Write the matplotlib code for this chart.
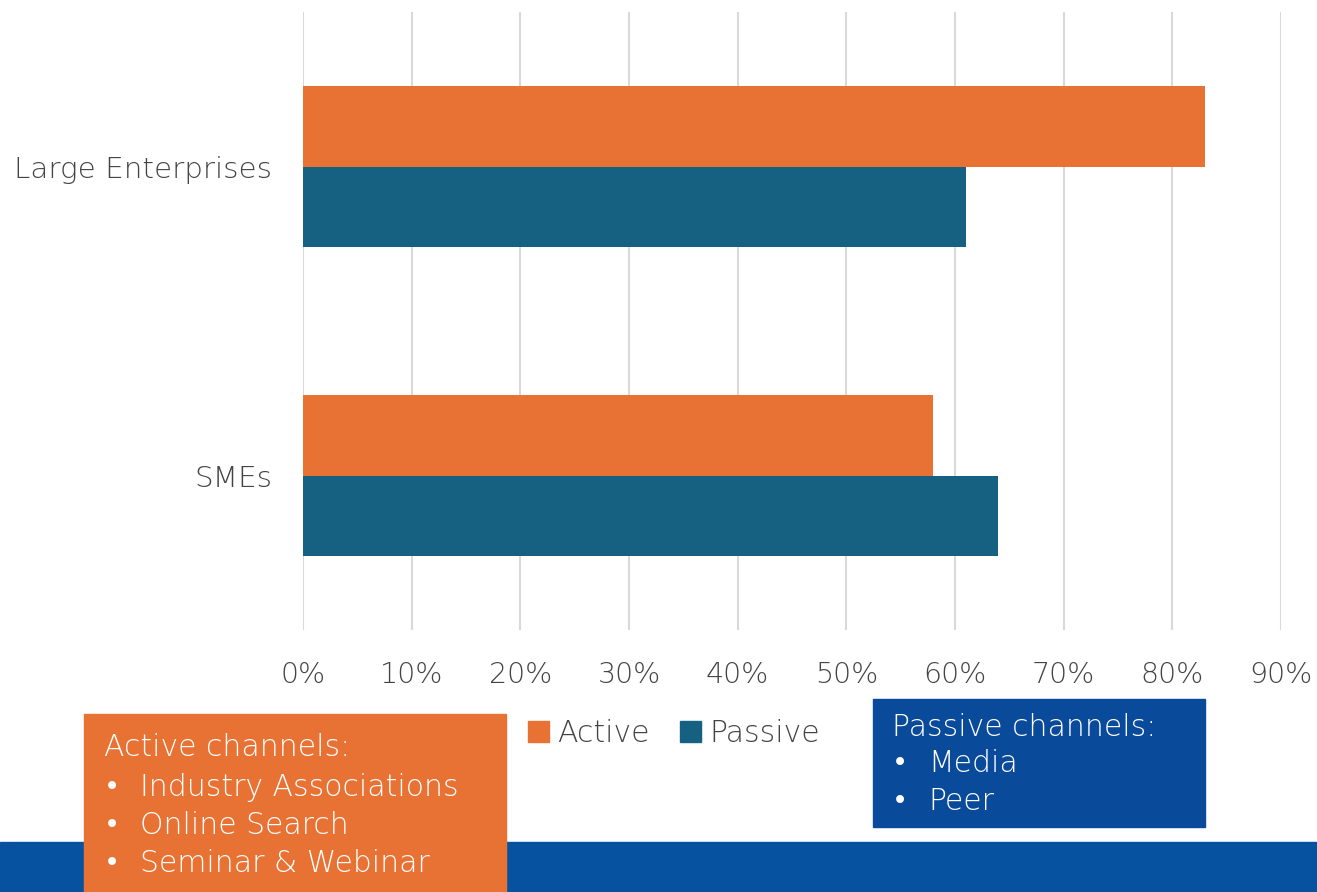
import matplotlib.pyplot as plt
from matplotlib.patches import Rectangle, Patch
from matplotlib.ticker import PercentFormatter

plt.rcParams['font.family'] = ['DejaVu Sans']
plt.rcParams['font.weight'] = 'light'

# data
categories = ['SMEs', 'Large Enterprises']
active = [58, 83]
passive = [64, 61]
x_ticks = [0, 10, 20, 30, 40, 50, 60, 70, 80, 90]
active_channels = ['Industry Associations', 'Online Search', 'Seminar & Webinar']
passive_channels = ['Media', 'Peer']

ORANGE = '#E87234'
TEAL = '#166082'
GREY = '#444444'
W, H = 1317, 892

fig = plt.figure(figsize=(13.17, 8.92), dpi=100)
ax = fig.add_axes([303 / W, 1 - 630 / H, (1281 - 303) / W, (630 - 12) / H])

pos = list(range(len(categories)))
bh = 0.26
ax.barh([p + bh / 2 for p in pos], active, height=bh, color=ORANGE, label='Active', zorder=3)
ax.barh([p - bh / 2 for p in pos], passive, height=bh, color=TEAL, label='Passive', zorder=3)

ax.set_xlim(0, 90)
ax.set_ylim(-0.5, 1.5)
ax.set_xticks(x_ticks)
ax.xaxis.set_major_formatter(PercentFormatter(decimals=0))
ax.set_yticks(pos)
ax.set_yticklabels(categories)
ax.tick_params(length=0, labelcolor=GREY)
ax.tick_params(axis='x', pad=22, labelsize=20.5)
ax.tick_params(axis='y', pad=22, labelsize=21.2)
ax.grid(axis='x', color='#D9D9D9', linewidth=1.5, zorder=0)
for s in ax.spines.values():
    s.set_visible(False)

# legend
handles = [Patch(color=ORANGE, label='Active'), Patch(color=TEAL, label='Passive')]
fig.legend(handles=handles, loc='center', bbox_to_anchor=(674 / W, 1 - 733 / H),
           ncol=2, frameon=False, fontsize=21.5, labelcolor=GREY,
           handlelength=0.7, handleheight=0.7, handletextpad=0.3, columnspacing=1.0)

# bottom band and channel boxes
def fig_rect(x0, y0, x1, y1, color, z):
    fig.patches.append(Rectangle((x0 / W, 1 - y1 / H), (x1 - x0) / W, (y1 - y0) / H,
                                 transform=fig.transFigure, color=color, zorder=z))

fig_rect(0, 842, W, H, '#0752A0', 1)
fig_rect(84, 714, 506, H, ORANGE, 2)
fig_rect(873, 699, 1205, 827, '#0A4A9A', 2)

fs = 21.5
def bullet(x, y):
    fig.text(x / W, y, '•', color='white', fontsize=fs - 2, va='center',
             family=['DejaVu Sans'], fontweight='normal', zorder=5)

fig.text(104 / W, 1 - 748 / H, 'Active channels:', color='white', fontsize=fs, va='center', zorder=5)
for i, name in enumerate(active_channels):
    y = 1 - (788 + 38 * i) / H
    bullet(104, y)
    fig.text(140 / W, y, name, color='white', fontsize=fs, va='center', zorder=5)

fig.text(892 / W, 1 - 727 / H, 'Passive channels:', color='white', fontsize=fs, va='center', zorder=5)
for i, name in enumerate(passive_channels):
    y = 1 - (764 + 38 * i) / H
    bullet(892, y)
    fig.text(928 / W, y, name, color='white', fontsize=fs, va='center', zorder=5)

fig.savefig('out.png', dpi=100)
